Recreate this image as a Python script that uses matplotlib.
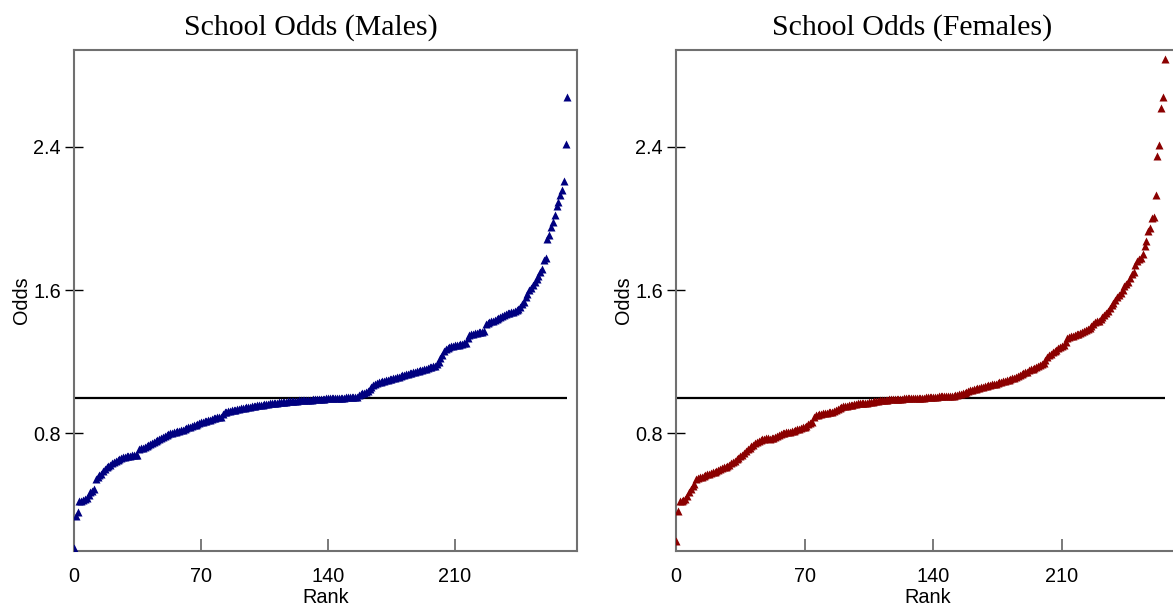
import numpy as np
import matplotlib
matplotlib.use('Agg')
import matplotlib.pyplot as plt

# odds per school, sorted ascending
males_odds = [
    0.160, 0.340, 0.360, 0.420, 0.425, 0.430, 0.435, 0.440, 0.455, 0.470,
    0.480, 0.490, 0.545, 0.555, 0.565, 0.575, 0.590, 0.600, 0.610, 0.618,
    0.626, 0.634, 0.640, 0.646, 0.652, 0.658, 0.663, 0.667, 0.670, 0.672,
    0.674, 0.676, 0.677, 0.678, 0.680, 0.682, 0.710, 0.716, 0.720, 0.725,
    0.730, 0.735, 0.740, 0.744, 0.750, 0.756, 0.762, 0.768, 0.773, 0.778,
    0.784, 0.790, 0.795, 0.800, 0.803, 0.806, 0.809, 0.812, 0.815, 0.818,
    0.821, 0.825, 0.829, 0.833, 0.837, 0.841, 0.845, 0.849, 0.853, 0.857,
    0.861, 0.865, 0.868, 0.871, 0.874, 0.877, 0.880, 0.883, 0.886, 0.889,
    0.891, 0.893, 0.910, 0.918, 0.921, 0.924, 0.927, 0.929, 0.931, 0.933,
    0.935, 0.937, 0.939, 0.941, 0.943, 0.945, 0.947, 0.949, 0.951, 0.953,
    0.955, 0.957, 0.958, 0.960, 0.961, 0.963, 0.964, 0.966, 0.967, 0.968,
    0.970, 0.971, 0.972, 0.973, 0.974, 0.975, 0.976, 0.977, 0.978, 0.979,
    0.980, 0.981, 0.982, 0.983, 0.984, 0.985, 0.985, 0.986, 0.987, 0.988,
    0.988, 0.989, 0.990, 0.990, 0.991, 0.992, 0.992, 0.993, 0.994, 0.995,
    0.995, 0.996, 0.997, 0.997, 0.998, 0.998, 0.999, 0.999, 1.000, 1.000,
    1.001, 1.001, 1.002, 1.002, 1.003, 1.003, 1.004, 1.012, 1.020, 1.025,
    1.028, 1.031, 1.035, 1.045, 1.058, 1.068, 1.074, 1.080, 1.084, 1.088,
    1.090, 1.093, 1.096, 1.099, 1.102, 1.105, 1.108, 1.111, 1.114, 1.117,
    1.120, 1.123, 1.126, 1.129, 1.132, 1.135, 1.138, 1.141, 1.144, 1.147,
    1.150, 1.153, 1.156, 1.159, 1.162, 1.165, 1.168, 1.171, 1.174, 1.178,
    1.185, 1.200, 1.220, 1.240, 1.262, 1.270, 1.276, 1.281, 1.285, 1.289,
    1.292, 1.294, 1.296, 1.298, 1.300, 1.302, 1.305, 1.330, 1.350, 1.354,
    1.357, 1.360, 1.362, 1.364, 1.366, 1.368, 1.370, 1.410, 1.415, 1.420,
    1.425, 1.430, 1.435, 1.440, 1.445, 1.450, 1.455, 1.460, 1.465, 1.470,
    1.473, 1.477, 1.480, 1.485, 1.490, 1.495, 1.505, 1.520, 1.535, 1.560,
    1.580, 1.600, 1.610, 1.630, 1.645, 1.660, 1.680, 1.700, 1.720, 1.770,
    1.780, 1.885, 1.905, 1.950, 1.980, 2.020, 2.070, 2.090, 2.130, 2.160,
    2.210, 2.415, 2.680,
]

females_odds = [
    0.200, 0.365, 0.420, 0.425, 0.430, 0.435, 0.450, 0.475, 0.490, 0.505,
    0.520, 0.545, 0.550, 0.555, 0.559, 0.563, 0.567, 0.571, 0.575, 0.579,
    0.583, 0.587, 0.591, 0.595, 0.600, 0.605, 0.610, 0.615, 0.620, 0.626,
    0.632, 0.640, 0.648, 0.656, 0.664, 0.672, 0.680, 0.690, 0.700, 0.710,
    0.720, 0.728, 0.736, 0.744, 0.750, 0.756, 0.762, 0.767, 0.771, 0.772,
    0.772, 0.771, 0.772, 0.775, 0.780, 0.786, 0.792, 0.798, 0.801, 0.804,
    0.806, 0.808, 0.810, 0.812, 0.815, 0.818, 0.822, 0.826, 0.830, 0.833,
    0.836, 0.842, 0.850, 0.858, 0.865, 0.890, 0.900, 0.903, 0.906, 0.909,
    0.911, 0.913, 0.915, 0.917, 0.919, 0.921, 0.926, 0.932, 0.938, 0.944,
    0.948, 0.951, 0.953, 0.955, 0.957, 0.959, 0.961, 0.963, 0.965, 0.967,
    0.968, 0.969, 0.970, 0.971, 0.972, 0.973, 0.975, 0.977, 0.979, 0.981,
    0.983, 0.985, 0.986, 0.987, 0.988, 0.989, 0.990, 0.990, 0.991, 0.992,
    0.992, 0.993, 0.994, 0.994, 0.995, 0.995, 0.996, 0.996, 0.997, 0.997,
    0.998, 0.998, 0.999, 0.999, 1.000, 1.000, 1.001, 1.002, 1.003, 1.004,
    1.004, 1.005, 1.005, 1.006, 1.006, 1.007, 1.007, 1.008, 1.008, 1.009,
    1.009, 1.011, 1.013, 1.015, 1.017, 1.020, 1.023, 1.026, 1.030, 1.035,
    1.040, 1.044, 1.047, 1.050, 1.053, 1.056, 1.058, 1.061, 1.064, 1.066,
    1.068, 1.070, 1.073, 1.076, 1.078, 1.080, 1.084, 1.087, 1.090, 1.094,
    1.097, 1.100, 1.104, 1.107, 1.110, 1.115, 1.120, 1.125, 1.130, 1.135,
    1.140, 1.145, 1.152, 1.157, 1.162, 1.167, 1.172, 1.178, 1.183, 1.188,
    1.195, 1.210, 1.228, 1.235, 1.245, 1.255, 1.260, 1.265, 1.275, 1.283,
    1.290, 1.295, 1.310, 1.335, 1.338, 1.342, 1.345, 1.348, 1.352, 1.356,
    1.360, 1.365, 1.370, 1.375, 1.380, 1.390, 1.400, 1.410, 1.420, 1.425,
    1.430, 1.440, 1.450, 1.460, 1.470, 1.485, 1.500, 1.515, 1.530, 1.545,
    1.560, 1.575, 1.585, 1.600, 1.620, 1.635, 1.645, 1.665, 1.690, 1.700,
    1.740, 1.760, 1.775, 1.780, 1.800, 1.845, 1.875, 1.930, 1.945, 2.000,
    2.010, 2.130, 2.350, 2.410, 2.615, 2.680, 2.890,
]

titles = ['School Odds (Males)', 'School Odds (Females)']
colors = ['#000080', '#8b0000']
x_ticks = [0, 70, 140, 210]
y_ticks = [0.8, 1.6, 2.4]
y_tick_labels = ['0.8', '1.6', '2.4']
ref_odds = 1.0

W, H = 1173, 607
fig = plt.figure(figsize=(W / 100, H / 100), dpi=100)

# axes boxes in pixels: left, bottom(from top), width, height
boxes = [(74, 550.7, 503, 500.7), (676, 550.7, 503, 500.7)]
xmax = [277.3, 273.7]

spine_col = '#707070'
plt.rcParams['font.family'] = ['Liberation Sans', 'DejaVu Sans']

for i, odds in enumerate([males_odds, females_odds]):
    l, b, w, h = boxes[i]
    ax = fig.add_axes([l / W, (H - b) / H, w / W, h / H])
    ranks = np.arange(len(odds))

    ax.hlines(ref_odds, ranks[0], ranks[-1], color='black', lw=1.6, zorder=2)
    ax.plot(ranks, odds, '^', ms=5.6, color=colors[i], mec='none', zorder=3)

    ax.set_xlim(0, xmax[i])
    ax.set_ylim(0.145, 2.94)
    ax.set_xticks(x_ticks)
    ax.set_xticklabels([str(t) for t in x_ticks])
    ax.set_yticks(y_ticks)
    ax.set_yticklabels(y_tick_labels)

    for s in ax.spines.values():
        s.set_color(spine_col)
        s.set_linewidth(1.5)

    ax.tick_params(axis='y', direction='inout', length=13, width=1.0,
                   color='black', pad=2.9, labelsize=14.3)
    ax.tick_params(axis='x', direction='in', length=8.4, width=1.3,
                   color=spine_col, pad=11.6, labelsize=14.3)

    ax.set_xlabel('Rank', fontsize=14.3)
    ax.xaxis.set_label_coords(0.5, -0.0735)
    ax.set_ylabel('Odds', fontsize=14.3)
    ax.yaxis.set_label_coords(-0.085, 0.5)

    ax.text(0.47, 1.031, titles[i], transform=ax.transAxes, ha='center',
            va='baseline', fontsize=21.5, family='Liberation Serif')

fig.savefig('out.png', dpi=100)
